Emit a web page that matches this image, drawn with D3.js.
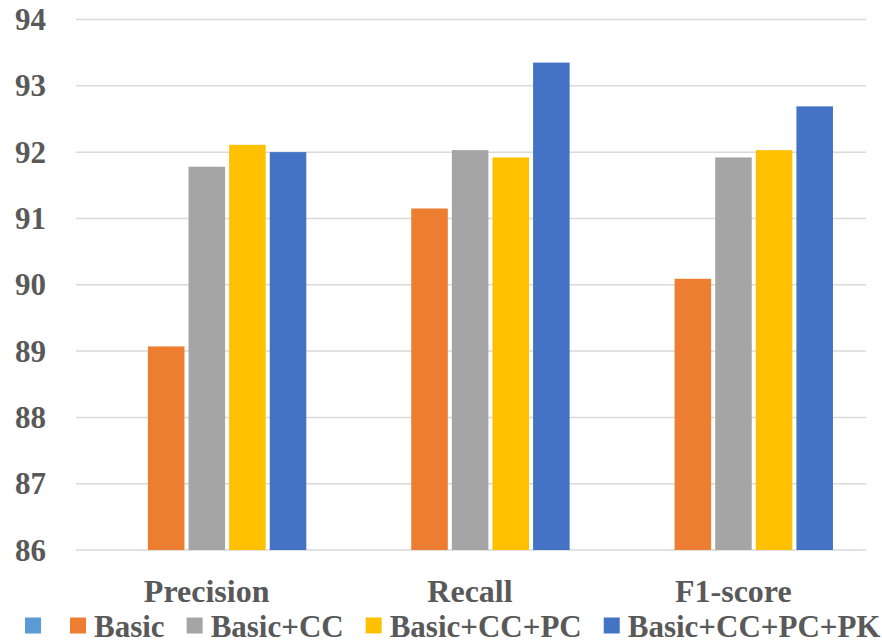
<!DOCTYPE html>
<html>
<head>
<meta charset="utf-8">
<script src="https://cdn.jsdelivr.net/npm/d3@7"></script>
<style>
  html, body { margin: 0; padding: 0; background: #ffffff; }
  svg { display: block; }
</style>
</head>
<body>
<svg id="chart" width="882" height="644" font-family="'Liberation Serif', 'Times New Roman', 'DejaVu Serif', serif" font-weight="bold"></svg>
<script>
// ---- data ----
const categories = ["Precision", "Recall", "F1-score"];
const seriesNames = ["", "Basic", "Basic+CC", "Basic+CC+PC", "Basic+CC+PC+PK"];
const seriesColors = ["#5B9BD5", "#ED7D31", "#A5A5A5", "#FFC000", "#4472C4"];
const valuesEmpty = [null, null, null];
const valuesBasic = [89.07, 91.15, 90.09];
const valuesBasicCC = [91.78, 92.03, 91.92];
const valuesBasicCCPC = [92.11, 91.92, 92.03];
const valuesBasicCCPCPK = [92.00, 93.35, 92.69];
const yTicks = [86, 87, 88, 89, 90, 91, 92, 93, 94];

const seriesValues = [valuesEmpty, valuesBasic, valuesBasicCC, valuesBasicCCPC, valuesBasicCCPCPK];

(function () {
const svg = d3.select("#chart");
const plotLeft = 76, plotRight = 866, plotTop = 19.5, plotBottom = 550;
const textColor = "#595959";

const y = d3.scaleLinear().domain([86, 94]).range([plotBottom, plotTop]);
const x0 = d3.scaleBand().domain(categories).range([plotLeft, plotRight]).paddingInner(0).paddingOuter(0);
const x1 = d3.scaleBand().domain(d3.range(seriesNames.length))
  .range([31.3, 230.3]).paddingInner(0.1).paddingOuter(0);

// gridlines
svg.append("g").selectAll("line").data(yTicks).join("line")
  .attr("x1", plotLeft).attr("x2", plotRight)
  .attr("y1", d => y(d)).attr("y2", d => y(d))
  .attr("stroke", "#D9D9D9").attr("stroke-width", 1.5);

// y tick labels
svg.append("g").selectAll("text").data(yTicks).join("text")
  .attr("x", 46).attr("y", d => y(d) + 10.5)
  .attr("text-anchor", "end")
  .attr("fill", textColor)
  .attr("font-size", 31)
  .text(d => d);

// bars
const flat = [];
seriesValues.forEach((vals, si) => {
  vals.forEach((v, ci) => { if (v != null) flat.push({ si, ci, v }); });
});
svg.append("g").selectAll("rect").data(flat).join("rect")
  .attr("x", d => x0(categories[d.ci]) + x1(d.si))
  .attr("width", x1.bandwidth())
  .attr("y", d => y(d.v))
  .attr("height", d => y(86) - y(d.v))
  .attr("fill", d => seriesColors[d.si]);

// category labels
svg.append("g").selectAll("text").data(categories).join("text")
  .attr("x", d => x0(d) + x0.bandwidth() / 2 - 1)
  .attr("y", 601.5)
  .attr("text-anchor", "middle")
  .attr("fill", textColor)
  .attr("font-size", 32)
  .text(d => d);

// legend
const legend = svg.append("g");
let lx = 25;
const sw = 16, swGap = 8, itemGap = 22;
seriesNames.forEach((name, i) => {
  legend.append("rect").attr("x", lx).attr("y", 617.5).attr("width", sw).attr("height", sw)
    .attr("fill", seriesColors[i]);
  lx += sw;
  if (name) {
    const t = legend.append("text").attr("x", lx + swGap).attr("y", 637)
      .attr("fill", textColor)
      .attr("font-size", 31).text(name);
    lx += swGap + t.node().getComputedTextLength() + itemGap;
  } else {
    lx += 29;
  }
});
})();
</script>
</body>
</html>
